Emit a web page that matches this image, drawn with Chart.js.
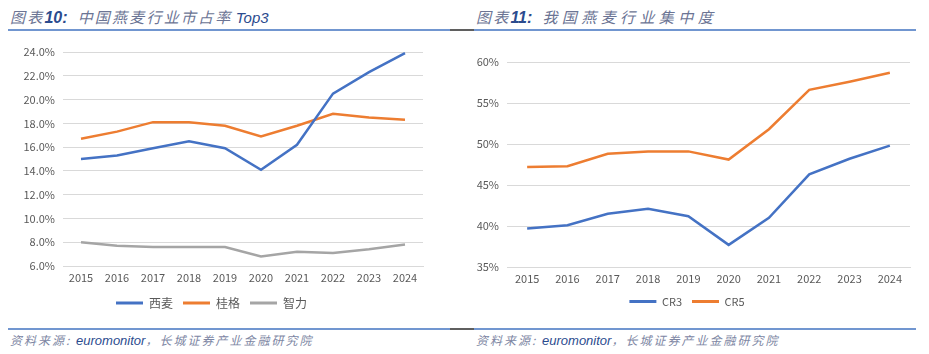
<!DOCTYPE html>
<html>
<head>
<meta charset="utf-8">
<script src="https://cdn.jsdelivr.net/npm/chart.js@4/dist/chart.umd.min.js"></script>
<style>
  body { margin: 0; width: 929px; height: 354px; background: #fff; position: relative; overflow: hidden;
         font-family: "Noto Sans CJK SC", sans-serif; }
  .title { position: absolute; top: 8px; font-size: 15px; line-height: 18px; font-style: italic;
           color: #6b7494; white-space: nowrap; }
  .title b { color: #2b4b8e; font-family: "Liberation Sans", Arial, sans-serif; font-size: 16px; letter-spacing: 0; }
  .title .en { color: #2b4b8e; font-family: "Liberation Sans", Arial, sans-serif; letter-spacing: 0; }
  .title .zh { letter-spacing: 2.2px; }
  .rule { position: absolute; height: 2px; background: #7196d0; }
  .rule.dark { background: #5f5f5f; }
  .src { position: absolute; top: 332px; font-size: 12px; line-height: 16px; font-style: italic;
         color: #7d86a3; letter-spacing: 2px; white-space: nowrap; }
  .src .en { color: #2b4b8e; font-family: "Liberation Sans", Arial, sans-serif; font-size: 13px; letter-spacing: 0; }
  .box { position: absolute; }
</style>
</head>
<body>

<div class="title" style="left:10px;"><span class="zh">图表</span><b>10:</b>&nbsp;&nbsp; <span class="zh">中国燕麦行业市占率</span> <span class="en">Top3</span></div>
<div class="title" style="left:476px;"><span class="zh">图表</span><b>11:</b>&nbsp;&nbsp; <span class="zh" style="letter-spacing:4.4px;">我国燕麦行业集中度</span></div>

<div class="rule" style="left:8px; width:442px; top:29px;"></div>
<div class="rule dark" style="left:450px; width:24px; top:29px;"></div>
<div class="rule" style="left:474px; width:442px; top:29px;"></div>

<div class="box" style="left:0; top:36px;"><canvas id="shareChart" width="440" height="283"></canvas></div>
<div class="box" style="left:464px; top:36px;"><canvas id="crChart" width="465" height="281"></canvas></div>

<div class="rule" style="left:8px; width:442px; top:328px;"></div>
<div class="rule dark" style="left:450px; width:24px; top:328px;"></div>
<div class="rule" style="left:474px; width:442px; top:328px;"></div>

<div class="src" style="left:10px;">资料来源:&nbsp;<span class="en">euromonitor</span>，长城证券产业金融研究院</div>
<div class="src" style="left:476px;">资料来源:&nbsp;<span class="en">euromonitor</span>，长城证券产业金融研究院</div>

<script>
// chart data
const YEARS = ["2015", "2016", "2017", "2018", "2019", "2020", "2021", "2022", "2023", "2024"];

// 图表10 — market share of the top 3 (%)
const XIMAI = [15.0, 15.3, 15.9, 16.5, 15.9, 14.1, 16.2, 20.5, 22.3, 23.9];
const QUAKER = [16.7, 17.3, 18.1, 18.1, 17.8, 16.9, 17.8, 18.8, 18.5, 18.3];
const ZHILI = [8.0, 7.7, 7.6, 7.6, 7.6, 6.8, 7.2, 7.1, 7.4, 7.8];
const SHARE_NAMES = ["西麦", "桂格", "智力"];
const SHARE_TICKS = { min: 6, max: 24, step: 2 };

// 图表11 — concentration (%)
const CR3 = [39.7, 40.1, 41.5, 42.1, 41.2, 37.7, 41.0, 46.3, 48.2, 49.8];
const CR5 = [47.2, 47.3, 48.8, 49.1, 49.1, 48.1, 51.8, 56.6, 57.6, 58.7];
const CR_NAMES = ["CR3", "CR5"];
const CR_TICKS = { min: 35, max: 60, step: 5 };

const BLUE = "#4472C4";
const ORANGE = "#ED7D31";
const GREY = "#A5A5A5";
const TICK_COLOR = "#595959";
const GRID_COLOR = "#d9d9d9";
const FONT = "'Noto Sans CJK SC', sans-serif";

function lineSet(label, data, color) {
  return {
    label, data,
    borderColor: color,
    backgroundColor: color,
    borderWidth: 2.5,
    pointRadius: 0,
    tension: 0
  };
}

// legend: flat coloured bar, no outline
function legendItems(chart) {
  return Chart.defaults.plugins.legend.labels.generateLabels(chart)
    .map(l => ({ ...l, lineWidth: 0, fillStyle: l.strokeStyle }));
}

function makeChart(id, datasets, ticks, fmt, fit) {
  const el = document.getElementById(id);
  return new Chart(el, {
    type: "line",
    data: { labels: YEARS, datasets },
    options: {
      responsive: false,
      animation: false,
      devicePixelRatio: 1,
      layout: { padding: fit.padding },
      plugins: {
        tooltip: { enabled: false },
        legend: {
          position: "bottom",
          labels: {
            boxWidth: 27, boxHeight: 3, padding: 10,
            color: TICK_COLOR,
            font: { family: FONT, size: fit.legendSize },
            generateLabels: legendItems
          }
        }
      },
      scales: {
        x: {
          offset: true,
          grid: { display: false, drawTicks: false },
          border: { color: GRID_COLOR, width: 1 },
          ticks: {
            color: TICK_COLOR, font: { family: FONT, size: 11 }, padding: fit.xPad,
            maxRotation: 0, autoSkip: false
          },
          afterFit: s => { s.height = fit.xHeight; }
        },
        y: {
          min: ticks.min, max: ticks.max,
          grid: { color: GRID_COLOR, lineWidth: 1, drawTicks: false },
          border: { display: false },
          ticks: {
            stepSize: ticks.step,
            color: TICK_COLOR,
            font: { family: FONT, size: 11 },
            padding: 8,
            callback: v => fmt(v)
          },
          afterFit: s => { s.width = fit.yWidth; }
        }
      }
    }
  });
}

makeChart("shareChart", [
  lineSet(SHARE_NAMES[0], XIMAI, BLUE),
  lineSet(SHARE_NAMES[1], QUAKER, ORANGE),
  lineSet(SHARE_NAMES[2], ZHILI, GREY)
], SHARE_TICKS, v => v.toFixed(1) + "%", {
  padding: { left: 0, right: 17, top: 16, bottom: 0 },
  yWidth: 63, xHeight: 21, xPad: 5, legendSize: 12
});

makeChart("crChart", [
  lineSet(CR_NAMES[0], CR3, BLUE),
  lineSet(CR_NAMES[1], CR5, ORANGE)
], CR_TICKS, v => v + "%", {
  padding: { left: 0, right: 19, top: 26, bottom: 0 },
  yWidth: 43, xHeight: 19, xPad: 5, legendSize: 11
});
</script>
</body>
</html>
